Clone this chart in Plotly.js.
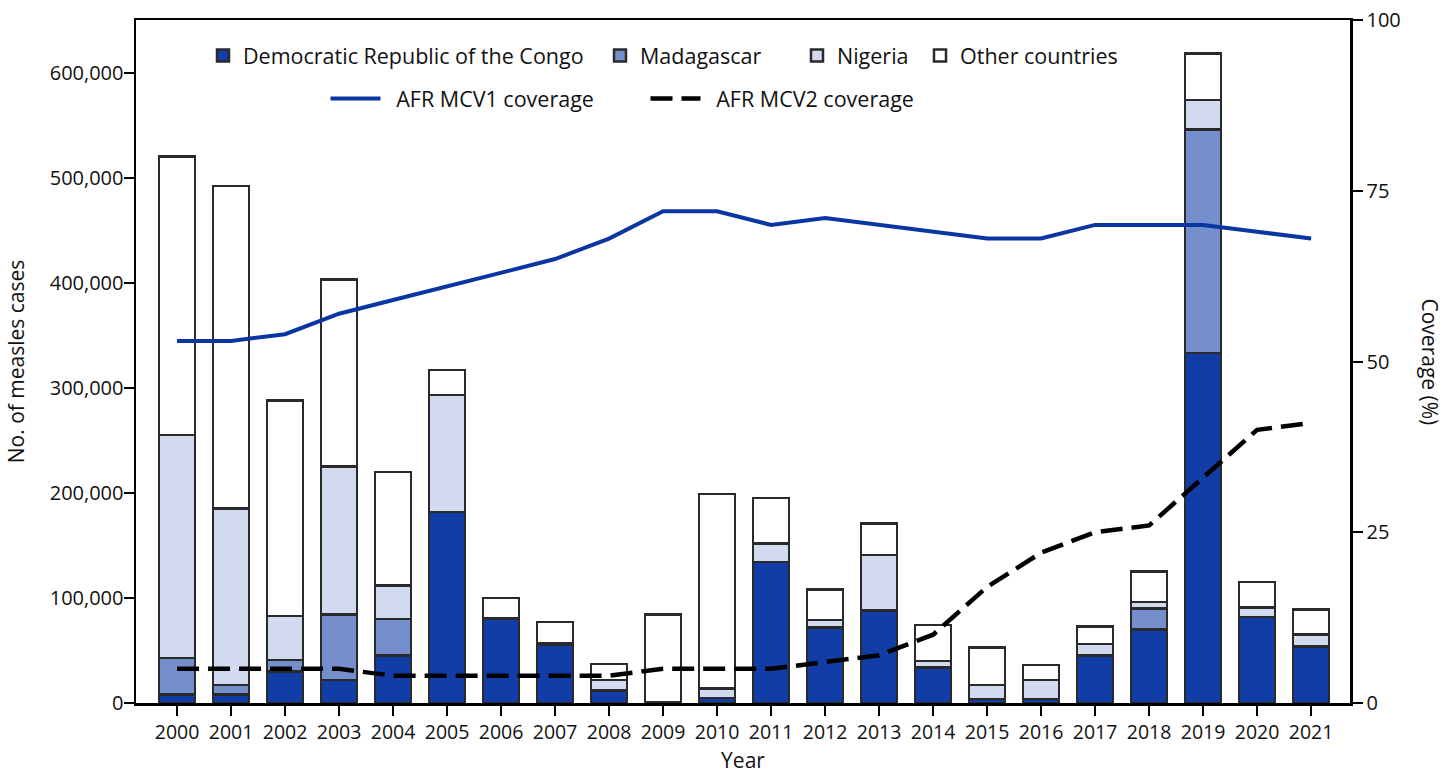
<!DOCTYPE html>
<html>
<head>
<meta charset="utf-8">
<script src="https://cdn.plot.ly/plotly-3.0.1.min.js"></script>
<style>body{margin:0;background:#fff;} #chart{width:1450px;height:774px;}</style>
</head>
<body>
<div id="chart"></div>
<script>
const years = [2000,2001,2002,2003,2004,2005,2006,2007,2008,2009,2010,2011,2012,2013,2014,2015,2016,2017,2018,2019,2020,2021];
const drc        = [8000,8000,30000,22000,45000,182000,80000,55000,12000,1000,5000,134000,72000,88000,34000,4000,4000,45000,70000,333000,82000,54000];
const madagascar = [35000,9000,11000,62000,35000,0,0,0,0,0,0,0,0,0,0,0,0,0,20000,213000,0,0];
const nigeria    = [212000,168000,42000,141000,32000,111000,1000,2000,10000,0,9000,18000,7000,53000,6000,13000,18000,11000,6000,28000,9000,11000];
const other      = [265000,307000,205000,178000,108000,24000,19000,20000,15000,83000,185000,43000,29000,30000,34000,36000,14000,17000,29000,44000,24000,24000];
const mcv1 = [53,53,54,57,59,61,63,65,68,72,72,70,71,70,69,68,68,70,70,70,69,68];
const mcv2 = [5,5,5,5,4,4,4,4,4,5,5,5,6,7,10,17,22,25,26,33,40,41];
const leftTicks = [0,100000,200000,300000,400000,500000,600000];
const leftTickText = ['0','100,000','200,000','300,000','400,000','500,000','600,000'];
const rightTicks = [0,25,50,75,100];

const FONT = 'Open Sans, Noto Sans, sans-serif';
const edge = {color:'#2a2a2a', width:2.5};
function barTrace(name, vals, color, lg){
  return {type:'bar', name:name, x:years, y:vals, width:0.667,
    marker:{color:color, line:edge}, legend:lg, hoverinfo:'x+y+name'};
}
const traces = [
  barTrace('Democratic Republic of the Congo', drc, '#123ca6', 'legend'),
  barTrace('Madagascar', madagascar, '#748fcb', 'legend3'),
  barTrace('Nigeria', nigeria, '#d1daee', 'legend4'),
  barTrace('Other countries', other, '#ffffff', 'legend5'),
  {type:'scatter', mode:'lines', name:'\u2002AFR MCV1 coverage', x:years, y:mcv1, yaxis:'y2',
    line:{color:'#0a36a3', width:4}, legend:'legend2'},
  {type:'scatter', mode:'lines', name:'\u2002AFR MCV2 coverage', x:years, y:mcv2, yaxis:'y2',
    line:{color:'#000000', width:4.5, dash:'22px,9px'}, legend:'legend6'}
];

// legend placement helper (pixel -> paper x)
function px2x(px){ return (px-136)/1214; }
function lg(px, y, extra){
  return Object.assign({orientation:'h', x:px2x(px), y:y, xanchor:'left', yanchor:'top',
    font:{size:21.5, family:FONT}, bgcolor:'rgba(0,0,0,0)'}, extra||{});
}

const layout = {
  width:1450, height:774,
  margin:{l:136, r:100, t:20, b:71},
  paper_bgcolor:'#fff', plot_bgcolor:'#fff',
  font:{family:FONT, size:19, color:'#111'},
  barmode:'stack',
  showlegend:true,
  xaxis:{range:[1999.24,2021.72], tickvals:years, ticktext:years.map(String),
    showgrid:false, zeroline:false, showline:true, linecolor:'#000', linewidth:2.5, mirror:true,
    ticks:'outside', ticklen:10, tickwidth:2, tickcolor:'#000',
    tickfont:{size:19.5, family:FONT},
    title:{text:'Year', font:{size:21, family:FONT}, standoff:17}},
  yaxis:{range:[0,650000], tickvals:leftTicks, ticktext:leftTickText,
    showgrid:false, zeroline:false, showline:true, linecolor:'#000', linewidth:2.5,
    ticks:'outside', ticklen:10, tickwidth:2, tickcolor:'#000',
    tickfont:{size:20, family:FONT}, ticklabelstandoff:-4,
    title:{text:'No. of measles cases', font:{size:21, family:FONT}, standoff:20}},
  yaxis2:{range:[0,100], tickvals:rightTicks, overlaying:'y', side:'right',
    showgrid:false, zeroline:false, showline:true, linecolor:'#000', linewidth:2.5,
    ticks:'outside', ticklen:10, tickwidth:2, tickcolor:'#000',
    tickfont:{size:20, family:FONT}},
  legend: lg(203, 0.978),
  legend3: lg(600, 0.978),
  legend4: lg(797, 0.978),
  legend5: lg(920, 0.978),
  legend2: lg(325.5, 0.915, {itemwidth:50}),
  legend6: lg(645.5, 0.915, {itemwidth:50}),
  annotations:[{text:'Coverage (%)', textangle:90, xref:'paper', yref:'paper',
    x:1, xshift:96, y:0.5, showarrow:false, font:{size:21, family:FONT}}]
};
Plotly.newPlot('chart', traces, layout, {displayModeBar:false, staticPlot:true});
</script>
</body>
</html>
